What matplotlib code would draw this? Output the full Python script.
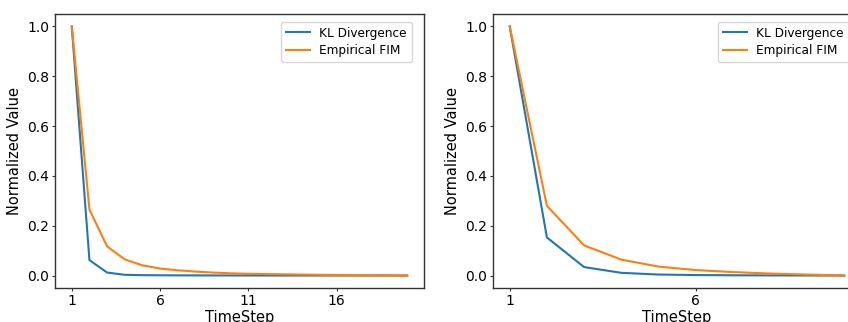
import numpy as np
import matplotlib.pyplot as plt

# left panel: 20 timesteps
steps_a = np.arange(1, 21)
kl_a = [1.0, 0.062, 0.012, 0.003, 0.0015, 0.001, 0.0007, 0.0005, 0.0004, 0.0003,
        0.0002, 0.0002, 0.0001, 0.0001, 0.0001, 0.0, 0.0, 0.0, 0.0, 0.0]
fim_a = [1.0, 0.265, 0.117, 0.065, 0.041, 0.028, 0.021, 0.016, 0.012, 0.009,
         0.007, 0.006, 0.005, 0.004, 0.003, 0.002, 0.0015, 0.001, 0.0005, 0.0]

# right panel: 10 timesteps
steps_b = np.arange(1, 11)
kl_b = [1.0, 0.153, 0.034, 0.011, 0.004, 0.002, 0.001, 0.0005, 0.0002, 0.0]
fim_b = [1.0, 0.28, 0.121, 0.064, 0.036, 0.022, 0.014, 0.008, 0.004, 0.0]

W, H = 848, 322
fig = plt.figure(figsize=(W / 100, H / 100), dpi=100)

# right panel runs past the image edge in the reference
ax1 = fig.add_axes([55 / W, (H - 288) / H, (424 - 55) / W, (288 - 14) / H])
ax2 = fig.add_axes([493 / W, (H - 288) / H, (861 - 493) / W, (288 - 14) / H])

for ax, x, kl, fim, ticks in [(ax1, steps_a, kl_a, fim_a, [1, 6, 11, 16]),
                              (ax2, steps_b, kl_b, fim_b, [1, 6])]:
    ax.plot(x, kl, color='#1f77b4', lw=1.5, label='KL Divergence')
    ax.plot(x, fim, color='#ff7f0e', lw=1.5, label='Empirical FIM')
    ax.set_xticks(ticks)
    ax.set_yticks([0.0, 0.2, 0.4, 0.6, 0.8, 1.0])
    ax.tick_params(labelsize=10, length=2.5, pad=1.5, color='#333333')
    ax.set_xlabel('TimeStep', fontsize=10.5, labelpad=2)
    ax.set_ylabel('Normalized Value', fontsize=10.5, labelpad=4)
    for s in ax.spines.values():
        s.set_color('#333333')
        s.set_linewidth(1.0)
    ax.legend(loc='upper right', bbox_to_anchor=(1 - 12.3 / 369, 1 - 7.7 / 274),
              borderaxespad=0, fontsize=8.7, labelspacing=0.4)

fig.savefig('out.png', dpi=100)
